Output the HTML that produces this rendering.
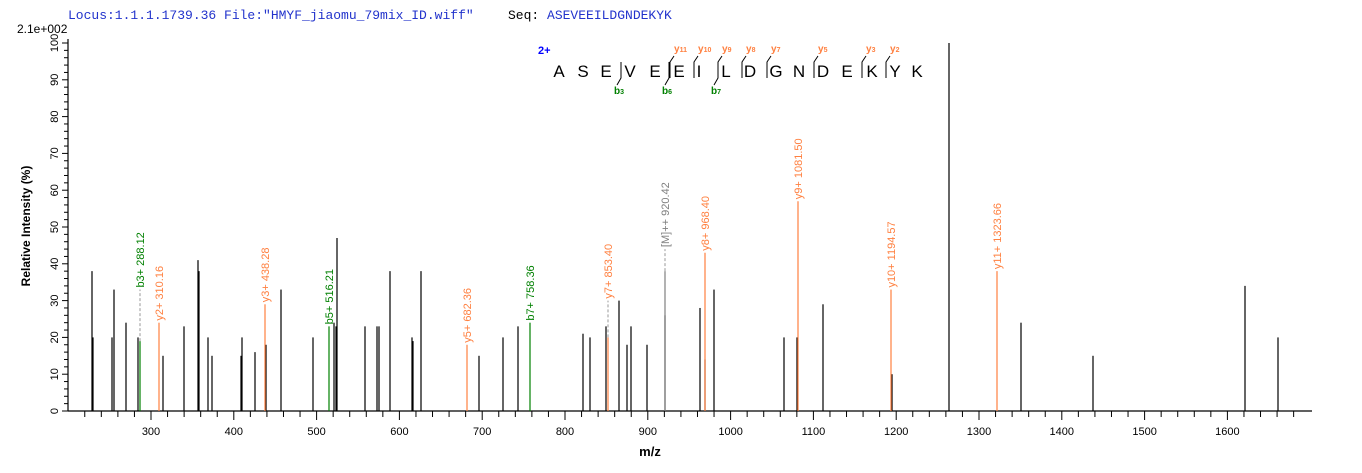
<!DOCTYPE html>
<html><head><meta charset="utf-8"><style>
body{margin:0;background:#fff;}
svg{display:block;font-family:"Liberation Sans",Arial,sans-serif;}
</style></head><body>
<svg width="1362" height="473" viewBox="0 0 1362 473" xmlns="http://www.w3.org/2000/svg">
<text x="68" y="19" font-family="Liberation Mono,monospace" font-size="13" fill="#2233cc">Locus:1.1.1.1739.36 File:"HMYF_jiaomu_79mix_ID.wiff"</text>
<text x="508" y="19" font-family="Liberation Mono,monospace" font-size="13" fill="#2233cc"><tspan fill="#000">Seq:</tspan> ASEVEEILDGNDEKYK</text>
<text x="17" y="33" font-size="12" fill="#000">2.1e+002</text>
<g id="axes" stroke="#000" stroke-width="1.2">
<line x1="68" y1="39" x2="68" y2="411"/>
<line x1="68" y1="411" x2="1312" y2="411"/>
</g>
<g id="yt" stroke="#000" stroke-width="1"></g>
<g id="xt" stroke="#000" stroke-width="1"></g>
<g id="yl" font-size="11" fill="#000"></g>
<g id="xl" font-size="11" fill="#000" text-anchor="middle"></g>
<text transform="translate(30,226) rotate(-90)" font-size="12" font-weight="bold" text-anchor="middle">Relative  Intensity (%)</text>
<text x="650" y="456" font-size="13" font-weight="bold" text-anchor="middle">m/z</text>
<g id="pk" stroke-width="1.2"></g>
<g id="lb" font-size="11"></g>
<g font-size="17" fill="#000" text-anchor="middle">
<text x="559" y="77">A</text><text x="583" y="77">S</text><text x="606" y="77">E</text><text x="630" y="77">V</text><text x="655" y="77">E</text><text x="679" y="77">E</text><text x="699" y="77">I</text><text x="726" y="77">L</text><text x="750" y="77">D</text><text x="776" y="77">G</text><text x="799" y="77">N</text><text x="823" y="77">D</text><text x="847" y="77">E</text><text x="872" y="77">K</text><text x="895" y="77">Y</text><text x="917" y="77">K</text>
</g>
<text x="538" y="54" font-size="11" font-weight="bold" fill="#0000ff">2+</text>
<g stroke="#000" stroke-width="1" fill="none">
<path d="M621,62 V78 L617,85"/><path d="M669,62 V78 L665,85"/><path d="M718,62 V78 L714,85"/>
<path d="M670,78 V62 L674,56"/><path d="M694,78 V62 L698,56"/><path d="M718,78 V62 L722,56"/><path d="M742,78 V62 L746,56"/><path d="M767,78 V62 L771,56"/><path d="M814,78 V62 L818,56"/><path d="M862,78 V62 L866,56"/><path d="M886,78 V62 L890,56"/>
</g>
<g font-size="10" font-weight="bold" fill="#008000"><text x="614" y="94">b<tspan font-size="7">3</tspan></text><text x="662" y="94">b<tspan font-size="7">6</tspan></text><text x="711" y="94">b<tspan font-size="7">7</tspan></text></g>
<g font-size="10" font-weight="bold" fill="#ff8040"><text x="674" y="52">y<tspan font-size="7">11</tspan></text><text x="698" y="52">y<tspan font-size="7">10</tspan></text><text x="722" y="52">y<tspan font-size="7">9</tspan></text><text x="746" y="52">y<tspan font-size="7">8</tspan></text><text x="771" y="52">y<tspan font-size="7">7</tspan></text><text x="818" y="52">y<tspan font-size="7">5</tspan></text><text x="866" y="52">y<tspan font-size="7">3</tspan></text><text x="890" y="52">y<tspan font-size="7">2</tspan></text></g>
</svg>
<script>
const NS="http://www.w3.org/2000/svg";
function el(p,t,a,txt){const e=document.createElementNS(NS,t);for(const k in a)e.setAttribute(k,a[k]);if(txt!==undefined)e.textContent=txt;document.getElementById(p).appendChild(e);return e;}
const Y=p=>411-p*3.68, X=m=>151+(m-300)*0.828;
for(let p=0;p<=100;p+=2){el("yt","line",{x1:p%10?64:62,y1:Y(p),x2:68,y2:Y(p)});if(p%10==0)el("yl","text",{transform:`translate(58,${Y(p)}) rotate(-90)`,"text-anchor":"middle"},p);}
for(let m=220;m<=1680;m+=20){const x=X(m);el("xt","line",{x1:x,y1:411,x2:x,y2:m%100?417:420});if(m%100==0&&m>=300)el("xl","text",{x:x,y:435},m);}
const blk=[[92,38],[93,20],[112,20],[114,33],[126,24],[138,20],[163,15],[184,23],[198,41],[199,38],[208,20],[212,15],[241,15],[242,20],[255,16],[266,18],[281,33],[313,20],[334,24],[336,23],[337,47],[365,23],[377,23],[379,23],[390,38],[412,20],[413,19],[421,38],[479,15],[503,20],[518,23],[583,21],[590,20],[606,23],[619,30],[627,18],[631,23],[647,18],[665,26],[700,28],[705,14],[714,33],[784,20],[797,20],[823,29],[892,10],[949,100],[1021,24],[1093,15],[1245,34],[1278,20]];
blk.forEach(([x,h])=>el("pk","line",{x1:x,y1:411,x2:x,y2:Y(h),stroke:"#000"}));
const col=[[140,19,"#008000","b3+ 288.12",33],[159,24,"#ff8040","y2+ 310.16",0],[265,29,"#ff8040","y3+ 438.28",0],[329,23,"#008000","b5+ 516.21",0],[467,18,"#ff8040","y5+ 682.36",0],[530,24,"#008000","b7+ 758.36",0],[608,20,"#ff8040","y7+ 853.40",30],[665,38,"#808080","[M]++ 920.42",44],[705,43,"#ff8040","y8+ 968.40",0],[798,57,"#ff8040","y9+ 1081.50",0],[891,33,"#ff8040","y10+ 1194.57",0],[997,38,"#ff8040","y11+ 1323.66",0]];
col.forEach(([x,h,c,t,d])=>{el("pk","line",{x1:x,y1:411,x2:x,y2:Y(h),stroke:c});let top=h;if(d){el("pk","line",{x1:x,y1:Y(h),x2:x,y2:Y(d),stroke:"#aaa","stroke-dasharray":"3,2"});top=d;}
el("lb","text",{transform:`translate(${x+4},${Y(top)-2}) rotate(-90)`,fill:c},t);});
</script>
</body></html>
